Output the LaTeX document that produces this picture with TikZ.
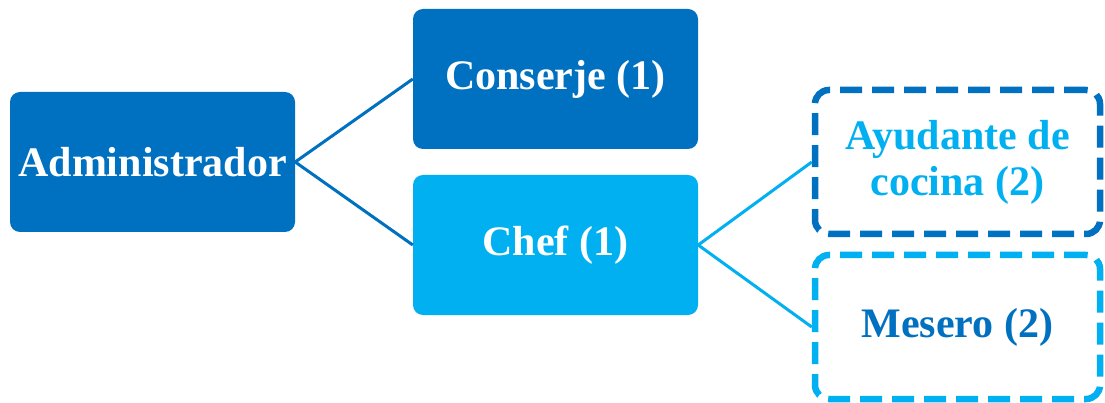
\documentclass[tikz,border=0pt]{standalone}
\usepackage{fontspec}
\setmainfont{Liberation Serif}
\definecolor{dblue}{HTML}{0070C0}
\definecolor{lblue}{HTML}{00B0F0}
\tikzset{
  solidbox/.style={rounded corners=10pt, minimum width=285pt, minimum height=140pt, inner sep=0pt, text=white, font=\fontsize{42}{46}\selectfont\bfseries, align=center},
  dashbox/.style={rounded corners=14pt, minimum width=285pt, minimum height=144pt, inner sep=0pt, fill=white, line width=6.5pt, dash pattern=on 22pt off 10pt, font=\fontsize{42}{46}\selectfont\bfseries, align=center},
  link/.style={line width=3pt}
}
\begin{document}
\begin{tikzpicture}[x=1pt,y=-1pt]
\path[use as bounding box, fill=white] (0,0) rectangle (1105,403);
\node[solidbox, fill=dblue] (admin) at (152.5,162) {Administrador};
\node[solidbox, fill=dblue] (conserje) at (555.5,79) {Conserje (1)};
\node[solidbox, fill=lblue] (chef) at (555.5,245) {Chef (1)};
\node[dashbox, draw=dblue, text=lblue] (ayudante) at (957.5,162) {Ayudante de\\cocina (2)};
\node[dashbox, draw=lblue, text=dblue] (mesero) at (957.5,327) {Mesero (2)};
\draw[link, dblue] (conserje.west) -- (admin.east) -- (chef.west);
\draw[link, lblue] (ayudante.west) -- (chef.east) -- (mesero.west);
\end{tikzpicture}
\end{document}
